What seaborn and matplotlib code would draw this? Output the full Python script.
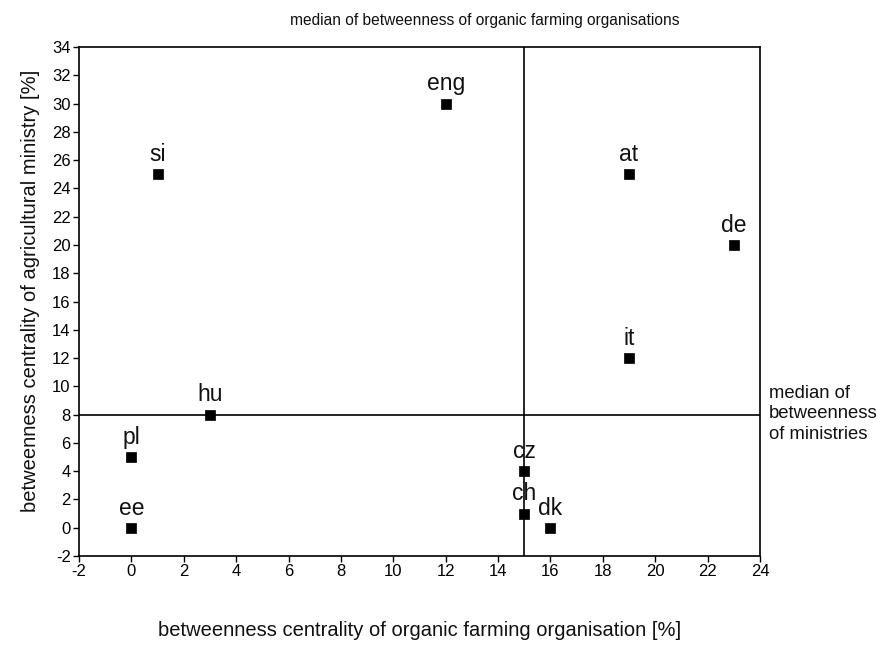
import matplotlib
matplotlib.use("Agg")
import matplotlib.pyplot as plt
from matplotlib import font_manager
import seaborn as sns
import pandas as pd

countries = ["eng", "si", "at", "de", "it", "hu", "pl", "cz", "ee", "ch", "dk"]
org_betweenness = [12, 1, 19, 23, 19, 3, 0, 15, 0, 15, 16]
ministry_betweenness = [30, 25, 25, 20, 12, 8, 5, 4, 0, 1, 0]
median_org = 15
median_ministry = 8
x_ticks = list(range(-2, 25, 2))
y_ticks = list(range(-2, 35, 2))

sns.set_theme(style="white")
plt.rcParams['font.family'] = ['Liberation Sans', 'DejaVu Sans']
plt.rcParams['axes.unicode_minus'] = False

names = {f.name for f in font_manager.fontManager.ttflist}
has_narrow = 'Liberation Sans Narrow' in names

df = pd.DataFrame({"country": countries, "org": org_betweenness, "min": ministry_betweenness})

fig = plt.figure(figsize=(8.78, 6.46), dpi=100)
ax = fig.add_axes([0.0900, 0.1393, 0.7756, 0.7879])

ax.axvline(median_org, color="black", lw=1.2, zorder=1)
ax.axhline(median_ministry, color="black", lw=1.2, zorder=1)

sns.scatterplot(data=df, x="org", y="min", marker="s", s=55, color="black",
                edgecolor="black", linewidth=0.5, ax=ax, zorder=3, legend=False)

for c, xv, yv in zip(countries, org_betweenness, ministry_betweenness):
    ax.annotate(c, (xv, yv), xytext=(0, 9.5), textcoords="offset points",
                ha="center", va="baseline", fontsize=16.5, color="#111111")

ax.set_xlim(-2, 24)
ax.set_ylim(-2, 34)
ax.set_xticks(x_ticks)
ax.set_yticks(y_ticks)
ax.tick_params(axis="both", direction="out", length=4, width=1, colors="black",
               labelsize=12, left=True, bottom=True, pad=2)
for sp in ax.spines.values():
    sp.set_color("black")
    sp.set_linewidth(1.2)

ax.set_xlabel("betweenness centrality of organic farming organisation [%]",
              fontsize=14.5, labelpad=30, color="#111111")
ax.set_ylabel("betweenness centrality of agricultural ministry [%]",
              fontsize=14.5, labelpad=5, color="#111111")
ax.yaxis.set_label_coords(-0.058, 0.52)

if has_narrow:
    fam = ['Liberation Sans Narrow', 'Liberation Sans', 'DejaVu Sans']
    top_size, right_size = 13.6, 16.0
else:
    fam = ['Liberation Sans', 'DejaVu Sans']
    top_size, right_size = 11.2, 13.3

fig.text(485 / 878, 1 - 20 / 646, "median of betweenness of organic farming organisations",
         ha="center", va="center", fontsize=top_size, family=fam, color="#111111")
fig.text(769 / 878, 1 - 414 / 646, "median of\nbetweenness\nof ministries",
         ha="left", va="center", fontsize=right_size, family=fam, linespacing=1.3,
         color="#111111")

fig.savefig("out.png", dpi=100)
